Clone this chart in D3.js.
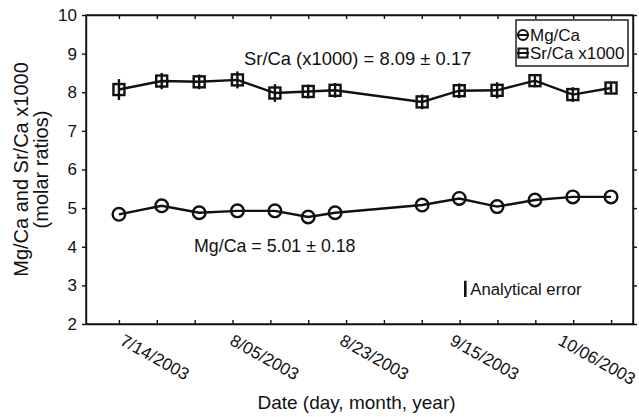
<!DOCTYPE html>
<html>
<head>
<meta charset="utf-8">
<script src="https://cdn.jsdelivr.net/npm/d3@7/dist/d3.min.js"></script>
<style>
  body { margin: 0; background: #fff; }
  svg text { font-family: "Liberation Sans", Arial, Helvetica, sans-serif; fill: #111; }
  .axis path, .axis line { stroke: #111; stroke-width: 1.4px; }
  .axis text { font-size: 17px; }
</style>
</head>
<body>
<script>
// sample positions (tick index units) and values
var xPos  = [1, 2.13, 3.12, 4.13, 5.12, 6.0, 6.71, 9.01, 9.99, 10.99, 11.99, 12.99, 14.0];
var mgCa  = [4.84, 5.06, 4.88, 4.93, 4.93, 4.77, 4.88, 5.08, 5.25, 5.04, 5.21, 5.29, 5.29];
var srCa  = [8.07, 8.29, 8.27, 8.32, 7.98, 8.02, 8.05, 7.75, 8.04, 8.05, 8.30, 7.94, 8.11];
var srErr = [0.27, 0.21, 0.19, 0.22, 0.23, 0.18, 0.19, 0.19, 0.19, 0.21, 0.17, 0.19, 0.12];

var xTicks = [1, 2, 3, 4, 5, 6, 7, 8, 9, 10, 11, 12, 13, 14];
// date labels sit at their own positions (they drift from the ticks in the original)
var dateLabels = ["7/14/2003", "8/05/2003", "8/23/2003", "9/15/2003", "10/06/2003"];
var dateLabelPos = [1.0, 3.9, 6.8, 9.71, 12.57];
var yTicks = [2, 3, 4, 5, 6, 7, 8, 9, 10];

// analytical error bar (position + half length)
var analytical = {x: 10.15, y: 2.91, err: 0.21};

var margin = {top: 15, right: 6, bottom: 93, left: 86},
    width = 639 - margin.left - margin.right,
    height = 417 - margin.top - margin.bottom;

var x = d3.scaleLinear().domain([0.13, 14.58]).range([0, width]);
var y = d3.scaleLinear().domain([2, 10]).range([height, 0]);

var svg = d3.select("body").append("svg")
    .attr("width", 639)
    .attr("height", 417)
  .append("g")
    .attr("transform", "translate(" + margin.left + "," + margin.top + ")");

// frame
svg.append("rect")
    .attr("width", width).attr("height", height)
    .attr("fill", "none").attr("stroke", "#111").attr("stroke-width", 1.4);

// bottom axis, ticks inward
svg.append("g").attr("class", "axis")
    .attr("transform", "translate(0," + height + ")")
    .call(d3.axisBottom(x).tickValues(xTicks).tickSizeInner(-4).tickSizeOuter(0).tickFormat(""));

// top axis, ticks inward
svg.append("g").attr("class", "axis")
    .call(d3.axisTop(x).tickValues(xTicks).tickSizeInner(-4).tickSizeOuter(0).tickFormat(""));

// left axis, ticks outward
svg.append("g").attr("class", "axis")
    .call(d3.axisLeft(y).tickValues(yTicks).tickSizeInner(4).tickSizeOuter(0).tickPadding(5));

// right axis, ticks outward
svg.append("g").attr("class", "axis")
    .attr("transform", "translate(" + width + ",0)")
    .call(d3.axisRight(y).tickValues(yTicks).tickSizeInner(4).tickSizeOuter(0).tickFormat(""));

// slanted date labels
svg.selectAll(".datelabel").data(dateLabels).enter().append("text")
    .attr("class", "datelabel")
    .attr("font-size", "17px")
    .attr("transform", function(d, i) {
      return "translate(" + x(dateLabelPos[i]) + "," + (height + 20) + ") rotate(29)";
    })
    .text(function(d) { return d; });

// axis titles
svg.append("text")
    .attr("x", width / 2 - 3)
    .attr("y", height + 85)
    .attr("text-anchor", "middle")
    .attr("font-size", "19px")
    .text("Date (day, month, year)");

svg.append("text")
    .attr("transform", "translate(" + (-58) + "," + (height / 2) + ") rotate(-90)")
    .attr("text-anchor", "middle")
    .attr("font-size", "20px")
    .text("Mg/Ca and Sr/Ca x1000");
svg.append("text")
    .attr("transform", "translate(" + (-38) + "," + (height / 2) + ") rotate(-90)")
    .attr("text-anchor", "middle")
    .attr("font-size", "20px")
    .text("(molar ratios)");

var idx = d3.range(xPos.length);

// lines
var mgLine = d3.line().x(function(i) { return x(xPos[i]); }).y(function(i) { return y(mgCa[i]); });
var srLine = d3.line().x(function(i) { return x(xPos[i]); }).y(function(i) { return y(srCa[i]); });

svg.append("path").datum(idx).attr("d", mgLine)
    .attr("fill", "none").attr("stroke", "#111").attr("stroke-width", 2.4);
svg.append("path").datum(idx).attr("d", srLine)
    .attr("fill", "none").attr("stroke", "#111").attr("stroke-width", 2.4);

// Sr/Ca error bars
svg.selectAll(".errbar").data(idx).enter().append("line")
    .attr("class", "errbar")
    .attr("x1", function(i) { return x(xPos[i]); })
    .attr("x2", function(i) { return x(xPos[i]); })
    .attr("y1", function(i) { return y(srCa[i] - srErr[i]); })
    .attr("y2", function(i) { return y(srCa[i] + srErr[i]); })
    .attr("stroke", "#111").attr("stroke-width", 2.4);

// markers
svg.selectAll(".mg").data(idx).enter().append("circle")
    .attr("class", "mg")
    .attr("cx", function(i) { return x(xPos[i]); })
    .attr("cy", function(i) { return y(mgCa[i]); })
    .attr("r", 6.3)
    .attr("fill", "none").attr("stroke", "#111").attr("stroke-width", 2.4);

svg.selectAll(".sr").data(idx).enter().append("rect")
    .attr("class", "sr")
    .attr("x", function(i) { return x(xPos[i]) - 5.5; })
    .attr("y", function(i) { return y(srCa[i]) - 5.5; })
    .attr("width", 11).attr("height", 11)
    .attr("fill", "none").attr("stroke", "#111").attr("stroke-width", 2.4);

// annotations
svg.append("text")
    .attr("x", 158).attr("y", 50)
    .attr("font-size", "18.4px")
    .text("Sr/Ca (x1000) = 8.09 \u00b1 0.17");
svg.append("text")
    .attr("x", 108).attr("y", 237)
    .attr("font-size", "17.8px")
    .text("Mg/Ca = 5.01 \u00b1 0.18");

// analytical error
svg.append("line")
    .attr("x1", x(analytical.x)).attr("x2", x(analytical.x))
    .attr("y1", y(analytical.y - analytical.err))
    .attr("y2", y(analytical.y + analytical.err))
    .attr("stroke", "#111").attr("stroke-width", 2.6);
svg.append("text")
    .attr("x", x(analytical.x) + 5).attr("y", y(analytical.y) + 6)
    .attr("font-size", "16.7px")
    .text("Analytical error");

// legend
var lg = svg.append("g").attr("transform", "translate(" + (width - 117) + ",5)");
lg.append("rect")
    .attr("width", 112).attr("height", 46)
    .attr("fill", "#fff").attr("stroke", "#111").attr("stroke-width", 1.4);
lg.append("line").attr("x1", 1).attr("x2", 13).attr("y1", 15).attr("y2", 15)
    .attr("stroke", "#111").attr("stroke-width", 2);
lg.append("circle").attr("cx", 7).attr("cy", 15).attr("r", 5)
    .attr("fill", "none").attr("stroke", "#111").attr("stroke-width", 2);
lg.append("text").attr("x", 14).attr("y", 21).attr("font-size", "17px").text("Mg/Ca");
lg.append("line").attr("x1", 1).attr("x2", 13).attr("y1", 33).attr("y2", 33)
    .attr("stroke", "#111").attr("stroke-width", 2);
lg.append("rect").attr("x", 2.5).attr("y", 28.5).attr("width", 9).attr("height", 9)
    .attr("fill", "none").attr("stroke", "#111").attr("stroke-width", 2);
lg.append("text").attr("x", 14).attr("y", 39).attr("font-size", "17px").text("Sr/Ca x1000");
</script>
</body>
</html>
